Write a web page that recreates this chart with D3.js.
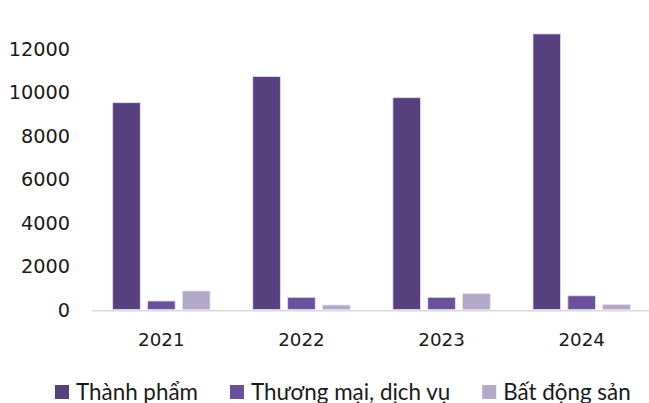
<!DOCTYPE html>
<html>
<head>
<meta charset="utf-8">
<script src="https://cdn.jsdelivr.net/npm/d3@7"></script>
<style>
  html, body { margin: 0; padding: 0; background: #fff; }
  svg { display: block; }
</style>
</head>
<body>
<svg id="chart" width="649" height="403"></svg>
<script>
const years = ["2021", "2022", "2023", "2024"];
const seriesNames = ["Thành phẩm", "Thương mại, dịch vụ", "Bất động sản"];
const thanhPham = [9500, 10700, 9730, 12660];
const thuongMai = [390, 560, 560, 630];
const batDongSan = [850, 205, 725, 220];
const yTicks = [0, 2000, 4000, 6000, 8000, 10000, 12000];
const colors = ["#56407e", "#6b509b", "#b2a8c8"];

const seriesValues = [thanhPham, thuongMai, batDongSan];
const svg = d3.select("#chart");

const y0 = 309.5, yTop = 48.3;
const y = d3.scaleLinear().domain([0, 12000]).range([y0, yTop]);
const x = d3.scaleBand().domain(years).range([91.3, 651.7]).paddingInner(0).paddingOuter(0);
const xs = d3.scaleBand().domain(seriesNames).range([21.4, 118.7]).paddingInner(0.21).paddingOuter(0);

// y axis labels
const yAxis = d3.axisLeft(y).tickValues(yTicks).tickSize(0).tickPadding(0).tickFormat(d3.format("d"));
const gy = svg.append("g").attr("transform", "translate(70,0)").call(yAxis);
gy.select(".domain").remove();
gy.selectAll("text")
  .attr("font-family", "DejaVu Sans, sans-serif")
  .attr("font-size", 19.3)
  .attr("fill", "#1a1a1a")
  .attr("dy", "0.36em");

// bars
const groups = svg.append("g").selectAll("g")
  .data(years).join("g")
  .attr("transform", d => `translate(${x(d)},0)`);
groups.selectAll("rect")
  .data((d, i) => seriesNames.map((s, k) => ({ s, k, v: seriesValues[k][i] })))
  .join("rect")
  .attr("x", d => xs(d.s))
  .attr("width", xs.bandwidth())
  .attr("y", d => y(d.v))
  .attr("height", d => y0 - y(d.v))
  .attr("fill", d => colors[d.k])
  .attr("stroke", "#e4dcef")
  .attr("stroke-width", 0.8);

// x axis
const xAxis = d3.axisBottom(x).tickSize(0).tickPadding(0);
const gx = svg.append("g").attr("transform", `translate(0,${y0 + 0.8})`).call(xAxis);
gx.select(".domain").attr("stroke", "#d9d9d9").attr("stroke-width", 1.6);
gx.selectAll("text")
  .attr("font-family", "DejaVu Sans, sans-serif")
  .attr("font-size", 18.3)
  .attr("fill", "#1a1a1a")
  .attr("y", 35.3)
  .attr("dy", 0);

// legend
const legend = svg.append("g").attr("transform", "translate(55,0)");
let cx = 0;
seriesNames.forEach((name, k) => {
  const g = legend.append("g").attr("transform", `translate(${cx},0)`);
  g.append("rect").attr("x", 0).attr("y", 385).attr("width", 14).attr("height", 14).attr("fill", colors[k]);
  const t = g.append("text").attr("x", 21).attr("y", 399.5)
    .attr("font-family", "Lato, sans-serif")
    .attr("font-size", 22.4)
    .attr("fill", "#1a1a1a")
    .text(name);
  cx += 21 + t.node().getComputedTextLength() + 32;
});
</script>
</body>
</html>
